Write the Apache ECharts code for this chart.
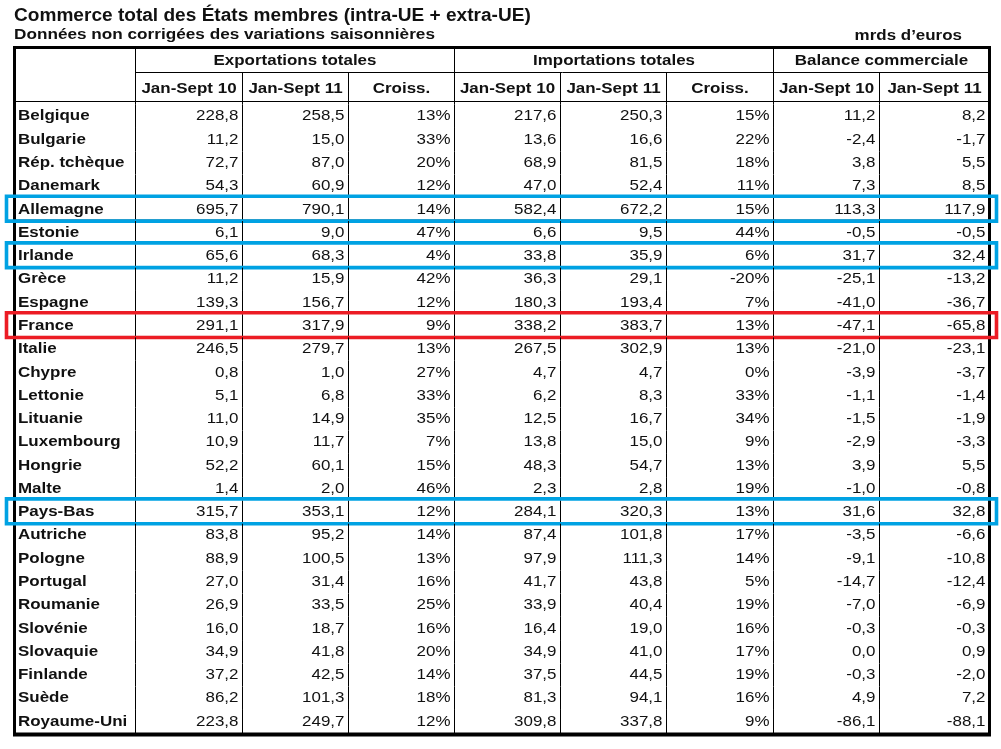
<!doctype html>
<html>
<head>
<meta charset="utf-8">
<title>Commerce total des États membres</title>
<script src="https://cdn.jsdelivr.net/npm/echarts@6/dist/echarts.min.js"></script>
<style type="text/css">
	html, body{margin:0; padding:0; background:#fff;}
	#chart{width:1001px; height:749px;}
</style>
</head>
<body>
<div id="chart"></div>
<script type="text/javascript">
// données (mrds d'euros)
var countries = ['Belgique', 'Bulgarie', 'Rép. tchèque', 'Danemark', 'Allemagne', 'Estonie', 'Irlande', 'Grèce', 'Espagne', 'France',
	'Italie', 'Chypre', 'Lettonie', 'Lituanie', 'Luxembourg', 'Hongrie', 'Malte', 'Pays-Bas', 'Autriche', 'Pologne',
	'Portugal', 'Roumanie', 'Slovénie', 'Slovaquie', 'Finlande', 'Suède', 'Royaume-Uni'];
var exp10 = [228.8, 11.2, 72.7, 54.3, 695.7, 6.1, 65.6, 11.2, 139.3, 291.1, 246.5, 0.8, 5.1, 11.0, 10.9, 52.2, 1.4, 315.7, 83.8, 88.9, 27.0, 26.9, 16.0, 34.9, 37.2, 86.2, 223.8];
var exp11 = [258.5, 15.0, 87.0, 60.9, 790.1, 9.0, 68.3, 15.9, 156.7, 317.9, 279.7, 1.0, 6.8, 14.9, 11.7, 60.1, 2.0, 353.1, 95.2, 100.5, 31.4, 33.5, 18.7, 41.8, 42.5, 101.3, 249.7];
var expGrowth = [13, 33, 20, 12, 14, 47, 4, 42, 12, 9, 13, 27, 33, 35, 7, 15, 46, 12, 14, 13, 16, 25, 16, 20, 14, 18, 12];
var imp10 = [217.6, 13.6, 68.9, 47.0, 582.4, 6.6, 33.8, 36.3, 180.3, 338.2, 267.5, 4.7, 6.2, 12.5, 13.8, 48.3, 2.3, 284.1, 87.4, 97.9, 41.7, 33.9, 16.4, 34.9, 37.5, 81.3, 309.8];
var imp11 = [250.3, 16.6, 81.5, 52.4, 672.2, 9.5, 35.9, 29.1, 193.4, 383.7, 302.9, 4.7, 8.3, 16.7, 15.0, 54.7, 2.8, 320.3, 101.8, 111.3, 43.8, 40.4, 19.0, 41.0, 44.5, 94.1, 337.8];
var impGrowth = [15, 22, 18, 11, 15, 44, 6, -20, 7, 13, 13, 0, 33, 34, 9, 13, 19, 13, 17, 14, 5, 19, 16, 17, 19, 16, 9];
var bal10 = [11.2, -2.4, 3.8, 7.3, 113.3, -0.5, 31.7, -25.1, -41.0, -47.1, -21.0, -3.9, -1.1, -1.5, -2.9, 3.9, -1.0, 31.6, -3.5, -9.1, -14.7, -7.0, -0.3, 0.0, -0.3, 4.9, -86.1];
var bal11 = [8.2, -1.7, 5.5, 8.5, 117.9, -0.5, 32.4, -13.2, -36.7, -65.8, -23.1, -3.7, -1.4, -1.9, -3.3, 5.5, -0.8, 32.8, -6.6, -10.8, -12.4, -6.9, -0.3, 0.9, -2.0, 7.2, -88.1];

var groupHeaders = ['Exportations totales', 'Importations totales', 'Balance commerciale'];
var subHeaders = ['Jan-Sept 10', 'Jan-Sept 11', 'Croiss.', 'Jan-Sept 10', 'Jan-Sept 11', 'Croiss.', 'Jan-Sept 10', 'Jan-Sept 11'];
var blueRows = ['Allemagne', 'Irlande', 'Pays-Bas'];
var redRows = ['France'];

// mise en page
var LEFT = 14.5, RIGHT = 989.5, TOP = 47.5, BOTTOM = 734.5;
var colX = [135.5, 242.5, 348.5, 454.5, 560.5, 666.5, 773.5, 879.5];
var edges = [LEFT].concat(colX).concat([RIGHT]);
var FONT = '"Liberation Sans", Arial, sans-serif';
var SX = 1.13;
var INK = '#111';
var BLUE = '#00a2e3', RED = '#ec1c24';

function num(v){ return v.toFixed(1).replace('.', ','); }
function pct(v){ return v + '%'; }

function txt(s, x, y, align, bold, size, sx){
	return {
		type: 'text', x: x, y: y, scaleX: sx || SX,
		style: {
			text: s, fill: INK, fontFamily: FONT, fontSize: size || 15,
			fontWeight: bold ? 'bold' : 'normal', align: align, verticalAlign: 'middle'
		}
	};
}
function ln(x1, y1, x2, y2, w){
	return {type: 'line', shape: {x1: x1, y1: y1, x2: x2, y2: y2}, style: {stroke: '#000', lineWidth: w || 1}};
}

function renderRow(params, api){
	var i = api.value(0);
	var p = api.coord([LEFT, i]);
	var cy = p[1];
	var h = api.size([0, 1])[1];
	var top = cy - h / 2, bot = cy + h / 2;
	var name = countries[i];
	var hl = blueRows.indexOf(name) >= 0 ? BLUE : (redRows.indexOf(name) >= 0 ? RED : null);
	var kids = [];
	if (hl) {
		kids.push(ln(LEFT, top - 1, RIGHT, top - 1));
		kids.push(ln(LEFT, bot - 1, RIGHT, bot - 1));
	}
	colX.forEach(function(x){ kids.push(ln(api.coord([x, i])[0], top, api.coord([x, i])[0], bot)); });
	kids.push(txt(name, p[0] + 3.5, cy, 'left', true));
	var cells = [num(exp10[i]), num(exp11[i]), pct(expGrowth[i]), num(imp10[i]), num(imp11[i]), pct(impGrowth[i]), num(bal10[i]), num(bal11[i])];
	cells.forEach(function(s, k){
		kids.push(txt(s, api.coord([edges[k + 2], i])[0] - 4, cy, 'right', false));
	});
	if (hl) {
		kids.push({
			type: 'rect',
			shape: {x: 6.5, y: top - 1.5, width: 990, height: h + 1.5},
			style: {fill: 'none', stroke: hl, lineWidth: 3.6}
		});
	}
	return {type: 'group', children: kids};
}

// en-têtes et bordures
var g = [];
g.push(txt('Commerce total des États membres (intra-UE + extra-UE)', 14, 16, 'left', true, 17.5, 1.09));
g.push(txt('Données non corrigées des variations saisonnières', 14, 35, 'left', true, 15, 1.145));
g.push(txt('mrds d\u2019euros', 962, 36, 'right', true, 15, SX));
g.push(ln(colX[0], 72.5, RIGHT, 72.5));
g.push(ln(LEFT, 101.5, RIGHT, 101.5));
[0, 3, 6].forEach(function(k){ g.push(ln(colX[k], TOP, colX[k], 104.7)); });
[1, 2, 4, 5, 7].forEach(function(k){ g.push(ln(colX[k], 72.5, colX[k], 104.7)); });
var groupSpan = [[0, 3], [3, 6], [6, 8]];
groupHeaders.forEach(function(s, k){
	var a = colX[groupSpan[k][0]], b = edges[groupSpan[k][1] + 1];
	g.push(txt(s, (a + b) / 2, 60.5, 'center', true));
});
subHeaders.forEach(function(s, k){
	g.push(txt(s, (edges[k + 1] + edges[k + 2]) / 2, 88.5, 'center', true));
});
g.push(ln(LEFT - 1.5, TOP, RIGHT + 1.5, TOP, 3));
g.push(ln(LEFT - 1.5, BOTTOM, RIGHT + 1.5, BOTTOM, 4));
g.push(ln(LEFT, TOP, LEFT, BOTTOM, 3));
g.push(ln(RIGHT, TOP, RIGHT, BOTTOM, 3));

var chart = echarts.init(document.getElementById('chart'));
chart.setOption({
	animation: false,
	grid: {left: LEFT, top: 104.7, width: RIGHT - LEFT, height: 628.5},
	xAxis: {type: 'value', min: LEFT, max: RIGHT, show: false},
	yAxis: {type: 'category', data: countries, inverse: true, show: false},
	series: [{
		type: 'custom',
		silent: true,
		clip: false,
		renderItem: renderRow,
		encode: {y: 0},
		data: countries.map(function(c, i){ return [i]; })
	}],
	graphic: g
});
</script>
</body>
</html>
